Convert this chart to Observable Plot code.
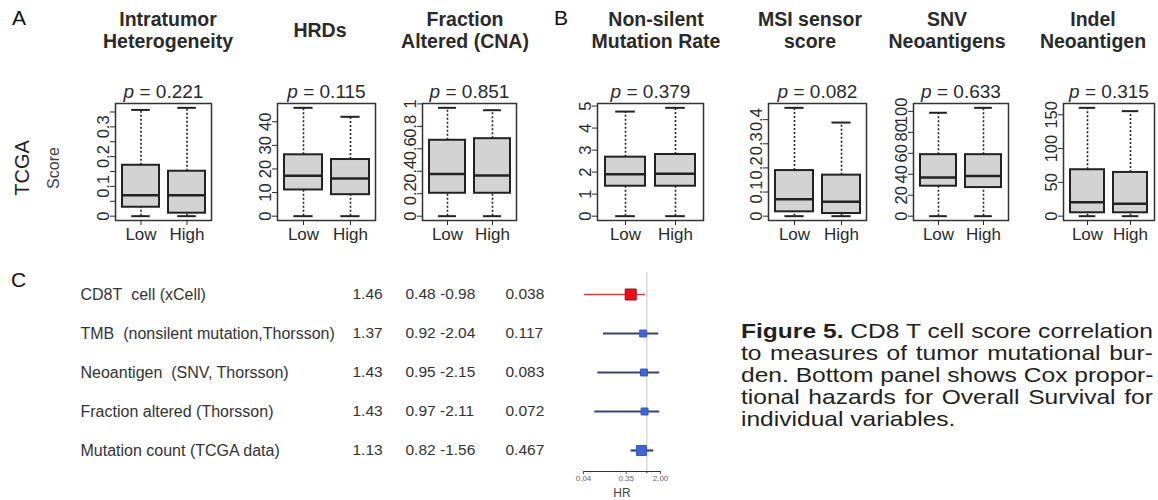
<!DOCTYPE html>
<html><head><meta charset="utf-8">
<script src="https://cdn.jsdelivr.net/npm/d3@7"></script>
<script src="https://cdn.jsdelivr.net/npm/@observablehq/plot@0.6"></script>
<style>
body{margin:0;background:#fff;}
#fig{position:relative;width:1158px;height:500px;font-family:"Liberation Sans",Arial,sans-serif;color:#222;overflow:hidden;background:#fff;}
.title{position:absolute;top:8px;height:44px;display:flex;flex-direction:column;justify-content:center;align-items:center;transform:translateX(-50%);font-weight:bold;font-size:19.5px;line-height:22px;color:#2a2a2a;white-space:nowrap;}
.letter{position:absolute;font-size:21px;line-height:24px;color:#111;}
.rot{position:absolute;transform:translate(-50%,-50%) rotate(-90deg);white-space:nowrap;}
.cap{position:absolute;left:741px;top:320px;width:352px;font-size:21px;line-height:22px;color:#231f20;transform:scaleX(1.17);transform-origin:0 0;}
.cap div{text-align:justify;text-align-last:justify;white-space:nowrap;}
.cap div.last{text-align-last:left;}
</style></head><body><div id="fig"></div>
<script>
// ---------- data ----------
const groups = ["Low", "High"];
const panelTitles = [["Intratumor", "Heterogeneity"], ["HRDs"], ["Fraction", "Altered (CNA)"], ["Non-silent", "Mutation Rate"], ["MSI sensor", "score"], ["SNV", "Neoantigens"], ["Indel", "Neoantigen"]];
const pValues = ["0.221", "0.115", "0.851", "0.379", "0.082", "0.633", "0.315"];
// [lower whisker, Q1, median, Q3, upper whisker]
const lowStats = [
  [0, 0.030, 0.070, 0.171, 0.357],
  [0, 11.1, 17.1, 26.0, 45.9],
  [0, 0.204, 0.375, 0.676, 0.965],
  [0, 1.36, 1.90, 2.68, 4.75],
  [0, 0.018, 0.070, 0.189, 0.449],
  [0, 28.6, 36.8, 58.7, 98.7],
  [0, 5.0, 20.6, 68.7, 160.3]
];
const highStats = [
  [0, 0.010, 0.070, 0.151, 0.364],
  [0, 9.1, 16.0, 24.0, 42.1],
  [0, 0.204, 0.363, 0.690, 0.944],
  [0, 1.36, 1.93, 2.80, 4.92],
  [0, 0.011, 0.060, 0.170, 0.388],
  [0, 27.3, 38.4, 58.7, 103.4],
  [0, 5.0, 18.2, 64.7, 155.4]
];
const yTicks = [
  [0, 0.05, 0.1, 0.15, 0.2, 0.25, 0.3, 0.35],
  [0, 10, 20, 30, 40],
  [0, 0.2, 0.4, 0.6, 0.8, 1],
  [0, 1, 2, 3, 4, 5],
  [0, 0.1, 0.2, 0.3, 0.4],
  [0, 20, 40, 60, 80, 100],
  [0, 50, 100, 150]
];
const yTickLabels = [
  ["0", "", "0.1", "", "0.2", "", "0.3", ""],
  ["0", "10", "20", "30", "40"],
  ["0", "0.2", "0.4", "0.6", "0.8", "1"],
  ["0", "1", "2", "3", "4", "5"],
  ["0", "0.1", "0.2", "0.3", "0.4"],
  ["0", "20", "40", "60", "80", "100"],
  ["0", "50", "100", "150"]
];

const forestNames = ["CD8T\u00a0\u00a0cell (xCell)", "TMB\u00a0 (nonsilent mutation,Thorsson)", "Neoantigen\u00a0 (SNV, Thorsson)", "Fraction altered (Thorsson)", "Mutation count (TCGA data)"];
const hrText = ["1.46", "1.37", "1.43", "1.43", "1.13"];
const ciText = ["0.48 -0.98", "0.92 -2.04", "0.95 -2.15", "0.97 -2.11", "0.82 -1.56"];
const pText = ["0.038", "0.117", "0.083", "0.072", "0.467"];
const hrDrawn = [0.44, 0.83, 0.86, 0.89, 0.76];
const ciLowDrawn = [0.042, 0.11, 0.083, 0.071, 0.45];
const ciHighDrawn = [0.93, 1.83, 1.93, 1.93, 1.42];
const significant = [true, false, false, false, false];
const markerWeight = [6.2, 3.9, 3.9, 3.9, 5.6];
const hrAxisTicks = [0.04, 0.35, 2];

// ---------- layout ----------
const fig = document.getElementById("fig");
const FONT = '"Liberation Sans", Arial, sans-serif';
const frameLeft = [115, 277, 422, 597, 768, 913, 1063];
const frameWidth = [96, 98, 94, 106, 98, 95, 91];
const titleCenter = [168, 320, 465, 656, 810, 947, 1093];
const frameTop = 103, frameH = 117;
const ML = 32, MR = 3, MT = 30, MB = 28;

function place(el, left, top) {
  el.style.position = "absolute";
  el.style.left = left + "px";
  el.style.top = top + "px";
  fig.appendChild(el);
}
function addDiv(cls, html, css) {
  const d = document.createElement("div");
  d.className = cls; d.innerHTML = html;
  Object.assign(d.style, css);
  fig.appendChild(d);
  return d;
}

addDiv("letter", "A", {left: "12px", top: "6px"});
addDiv("letter", "B", {left: "554px", top: "6px"});
addDiv("letter", "C", {left: "11px", top: "268px"});
addDiv("rot", "TCGA", {left: "22px", top: "168px", fontSize: "20px", color: "#222"});
addDiv("rot", "Score", {left: "54px", top: "168px", fontSize: "16px", color: "#444"});

panelTitles.forEach((t, i) => {
  addDiv("title", t.map(s => `<span>${s}</span>`).join(""), {left: titleCenter[i] + "px"});
});

// box panels
pValues.forEach((pv, i) => {
  const rows = groups.map((g, j) => {
    const s = (j === 0 ? lowStats : highStats)[i];
    return {g, lo: s[0], q1: s[1], med: s[2], q3: s[3], hi: s[4]};
  });
  const mn = d3.min(rows, d => d.lo), mx = d3.max(rows, d => d.hi), pad = 0.04 * (mx - mn);
  const fw = frameWidth[i];
  const bw = 0.8 * fw / 2.08, capInset = bw / 4;
  const labels = new Map(yTicks[i].map((t, k) => [t, yTickLabels[i][k]]));
  const svg = Plot.plot({
    width: fw + ML + MR, height: frameH + MT + MB,
    marginLeft: ML, marginRight: MR, marginTop: MT, marginBottom: MB,
    style: {fontFamily: FONT, background: "transparent", overflow: "visible", color: "#2a2a2a"},
    x: {type: "band", domain: groups, paddingInner: 0.2, paddingOuter: 0.14},
    y: {domain: [mn - pad, mx + pad]},
    marks: [
      Plot.ruleX(rows, {x: "g", y1: "q3", y2: "hi", stroke: "#222", strokeWidth: 1.6, strokeDasharray: "2,2"}),
      Plot.ruleX(rows, {x: "g", y1: "lo", y2: "q1", stroke: "#222", strokeWidth: 1.6, strokeDasharray: "2,2"}),
      Plot.tickY(rows, {x: "g", y: "hi", stroke: "#222", strokeWidth: 2, insetLeft: capInset, insetRight: capInset}),
      Plot.tickY(rows, {x: "g", y: "lo", stroke: "#222", strokeWidth: 2, insetLeft: capInset, insetRight: capInset}),
      Plot.barY(rows, {x: "g", y1: "q1", y2: "q3", fill: "#d3d3d3", stroke: "#222", strokeWidth: 2}),
      Plot.tickY(rows, {x: "g", y: "med", stroke: "#222", strokeWidth: 2.5}),
      Plot.frame({stroke: "#333", strokeWidth: 1.5}),
      Plot.axisY({ticks: yTicks[i], tickFormat: d => labels.get(d), tickRotate: -90, tickSize: 5, tickPadding: 2, fontSize: 16.5, label: null}),
      Plot.axisX({tickSize: 5, tickPadding: 2, fontSize: 17, label: null}),
      Plot.text([pv], {frameAnchor: "top", text: d => "p = " + d, dy: -19, fontSize: 19, className: "pval", fill: "#2a2a2a"})
    ]
  });
  svg.querySelectorAll(".pval text").forEach(t => {
    const s = t.textContent.replace(/^p/, "");
    t.textContent = "";
    const a = document.createElementNS("http://www.w3.org/2000/svg", "tspan");
    a.setAttribute("font-style", "italic"); a.textContent = "p";
    const b = document.createElementNS("http://www.w3.org/2000/svg", "tspan");
    b.textContent = s;
    t.appendChild(a); t.appendChild(b);
  });
  place(svg, frameLeft[i] - ML, frameTop - MT);
});

// forest table + plot
const forestRows = forestNames.map((n, k) => ({
  name: n, hr: hrText[k], ci: ciText[k], p: pText[k],
  est: hrDrawn[k], lo: ciLowDrawn[k], hi: ciHighDrawn[k], sig: significant[k], w: markerWeight[k]
}));
const fLeft = 583, fWidth = 77;
const colX = {name: 80, hr: 352, ci: 405, p: 505};
const forest = Plot.plot({
  width: 700, height: 230,
  marginLeft: fLeft, marginRight: 700 - fLeft - fWidth, marginTop: 2, marginBottom: 29,
  style: {fontFamily: FONT, background: "transparent", overflow: "visible", color: "#555"},
  x: {type: "log", domain: [0.04, 2]},
  y: {type: "point", domain: forestNames, padding: 0.5, axis: null},
  r: {type: "identity"},
  marks: [
    Plot.ruleX([1], {stroke: "#d0d0d0", strokeWidth: 1.2}),
    Plot.text(forestRows, {y: "name", text: "name", frameAnchor: "left", dx: colX.name - fLeft, textAnchor: "start", fontSize: 16, fill: "#333"}),
    Plot.text(forestRows, {y: "name", text: "hr", frameAnchor: "left", dx: colX.hr - fLeft, textAnchor: "start", fontSize: 15.5, fill: "#333"}),
    Plot.text(forestRows, {y: "name", text: "ci", frameAnchor: "left", dx: colX.ci - fLeft, textAnchor: "start", fontSize: 15.5, fill: "#333"}),
    Plot.text(forestRows, {y: "name", text: "p", frameAnchor: "left", dx: colX.p - fLeft, textAnchor: "start", fontSize: 15.5, fill: "#333"}),
    Plot.ruleY(forestRows, {y: "name", x1: "lo", x2: "hi", stroke: d => d.sig ? "#c8443a" : "#3b4170", strokeWidth: d => d.sig ? 1.6 : 2.2}),
    Plot.dot(forestRows, {y: "name", x: "est", r: "w", symbol: "square", fill: d => d.sig ? "#e3121b" : "#4066d4", stroke: d => d.sig ? "#9b1010" : "#3457c0", strokeWidth: 1}),
    Plot.frame({anchor: "bottom", stroke: "#333"}),
    Plot.axisX({tickFormat: () => "", tickSize: 2, stroke: "#333", label: null}),
    Plot.axisX({ticks: hrAxisTicks, tickFormat: d3.format(".2f"), tickSize: 3, tickPadding: 1, fontSize: 8, fill: "#666", label: null}),
    Plot.text(["HR"], {frameAnchor: "bottom", dy: 25, text: d => d, fontSize: 12, fill: "#444"})
  ]
});
place(forest, 0, 270);

// caption
addDiv("cap", [
  "<div><b>Figure 5.</b> CD8 T cell score correlation</div>",
  "<div>to measures of tumor mutational bur-</div>",
  "<div>den. Bottom panel shows Cox propor-</div>",
  "<div>tional hazards for Overall Survival for</div>",
  "<div class=\"last\">individual variables.</div>"
].join(""), {});
</script></body></html>
